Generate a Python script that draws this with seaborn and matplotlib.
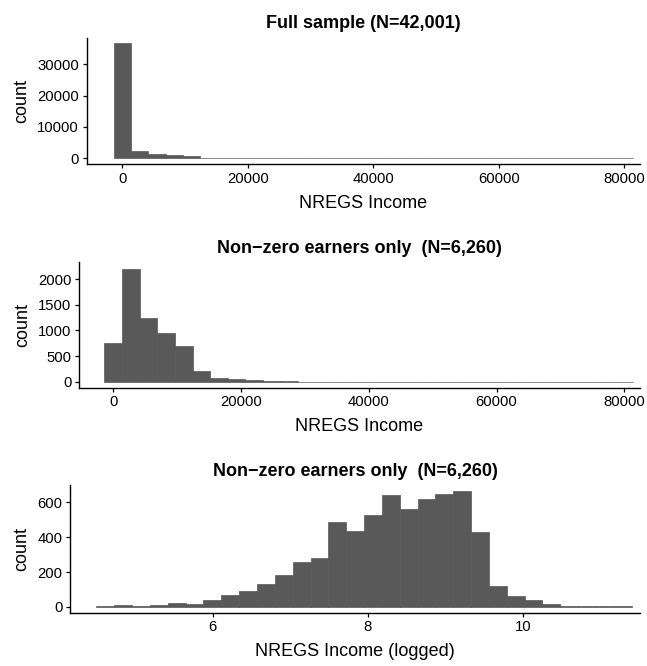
import numpy as np
import pandas as pd
import matplotlib
matplotlib.use("Agg")
import matplotlib.pyplot as plt
import seaborn as sns

# ---------------- data ----------------
n_bins = 30
income_min, income_max = 0, 80000          # NREGS income range (levels)
log_min, log_max = 4.615, 11.29            # range of logged income

full_counts = [36800, 2200, 1250, 960, 690, 205, 80, 52, 33, 12,
               10, 8, 7, 6, 5, 5, 1, 6, 1, 6,
               1, 6, 6, 1, 1, 6, 1, 1, 1, 6]
nonzero_counts = [750, 2200, 1250, 960, 690, 205, 80, 52, 33, 12,
                  10, 8, 7, 6, 5, 5, 1, 6, 1, 6,
                  1, 6, 6, 1, 1, 6, 1, 1, 1, 6]
log_counts = [5, 10, 5, 10, 23, 15, 40, 69, 92, 132,
              184, 259, 282, 487, 435, 527, 642, 562, 619, 648,
              665, 431, 119, 61, 38, 15, 8, 3, 3, 3]

titles = ["Full sample (N=42,001)",
          "Non\u2212zero earners only  (N=6,260)",
          "Non\u2212zero earners only  (N=6,260)"]
xlabels = ["NREGS Income", "NREGS Income", "NREGS Income (logged)"]
income_ticks = [0, 20000, 40000, 60000, 80000]
log_ticks = [6, 8, 10]
yticks_full = [0, 10000, 20000, 30000]
yticks_nonzero = [0, 500, 1000, 1500, 2000]
yticks_log = [0, 200, 400, 600]

# ---------------- style ----------------
sns.set_theme(style="ticks")
plt.rcParams["font.family"] = ["Liberation Sans", "DejaVu Sans"]
plt.rcParams["axes.unicode_minus"] = True

W, H = 647, 666
fig = plt.figure(figsize=(W / 100, H / 100), dpi=100)
fig.patch.set_facecolor("white")


def ax_at(left, top, right, bottom):
    return fig.add_axes([left / W, 1 - bottom / H, (right - left) / W, (bottom - top) / H])


axes = [ax_at(86.7, 37.5, 640, 164),
        ax_at(79, 261.7, 640, 387.7),
        ax_at(70, 485, 640, 612.7)]


def bin_frame(lo, hi, counts):
    width = (hi - lo) / (n_bins - 1)
    centers = lo + np.arange(n_bins) * width
    return pd.DataFrame({"x": centers, "w": counts}), (lo - width / 2, hi + width / 2)


specs = [
    (bin_frame(income_min, income_max, full_counts), income_ticks, yticks_full, (-5673, 82500), (-1840, 38500)),
    (bin_frame(income_min, income_max, nonzero_counts), income_ticks, yticks_nonzero, (-5370, 82460), (-111, 2336)),
    (bin_frame(log_min, log_max, log_counts), log_ticks, yticks_log, (4.159, 11.513), (-33, 699)),
]

bar_color = "#595959"
for ax, ((df, brange), xt, yt, xlim, ylim), title, xl in zip(axes, specs, titles, xlabels):
    sns.histplot(data=df, x="x", weights="w", bins=n_bins, binrange=brange,
                 color=bar_color, alpha=1, edgecolor=bar_color, linewidth=0.5, ax=ax)
    ax.set_xlim(*xlim)
    ax.set_ylim(*ylim)
    ax.set_xticks(xt)
    ax.set_xticklabels([str(v) for v in xt])
    ax.set_yticks(yt)
    ax.set_yticklabels([str(v) for v in yt])
    ax.set_title(title, fontsize=13, fontweight="bold", pad=6.5, color="black")
    ax.set_xlabel(xl, fontsize=13, labelpad=6.5, color="black")
    ax.set_ylabel("count", fontsize=13, labelpad=5, color="black")
    for s in ["top", "right"]:
        ax.spines[s].set_visible(False)
    for s in ["left", "bottom"]:
        ax.spines[s].set_linewidth(1.0)
        ax.spines[s].set_color("black")
    ax.tick_params(axis="both", length=3, width=0.9, color="black",
                   labelsize=10.7, labelcolor="black", pad=2.5)
    ax.set_facecolor("white")
    ax.grid(False)

fig.savefig("out.png", dpi=100, facecolor="white")
